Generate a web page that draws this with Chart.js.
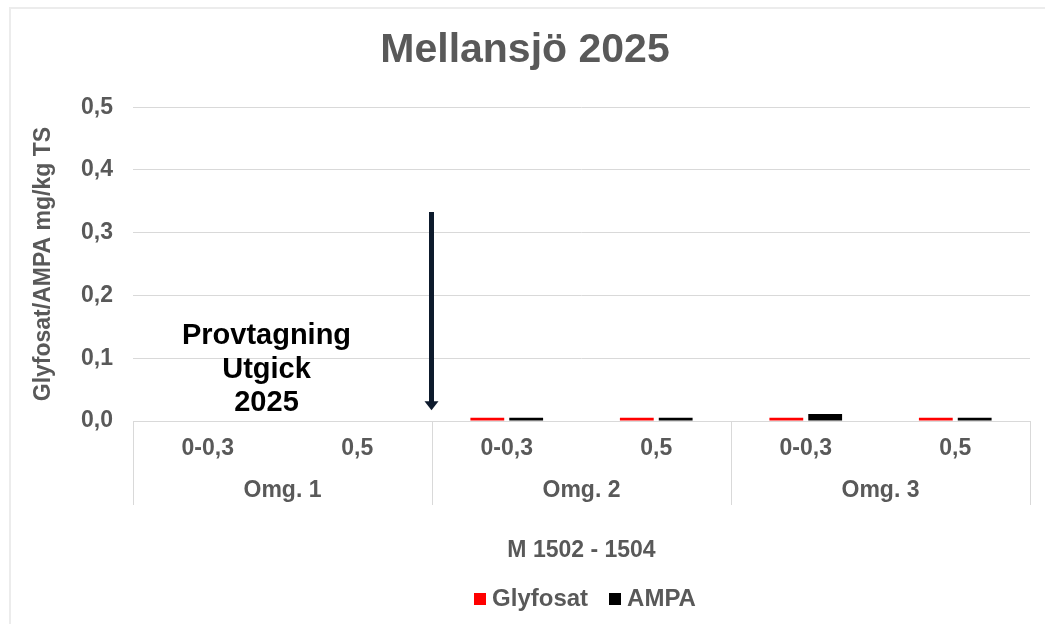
<!DOCTYPE html>
<html>
<head>
<meta charset="utf-8">
<script src="https://cdn.jsdelivr.net/npm/chart.js@4.4.1/dist/chart.umd.min.js"></script>
<style>
  html, body { margin: 0; padding: 0; background: #ffffff; }
  #wrap { width: 1045px; height: 624px; position: relative; }
</style>
</head>
<body>
<div id="wrap"><canvas id="c" width="1045" height="624"></canvas></div>
<script>
// ---- Data ----
const categories = ['0-0,3', '0,5', '0-0,3', '0,5', '0-0,3', '0,5'];
const groups = ['Omg. 1', 'Omg. 2', 'Omg. 3'];
const glyfosat = [null, null, 0.005, 0.005, 0.005, 0.005];
const ampa = [null, null, 0.005, 0.005, 0.011, 0.005];
const yTicks = [0, 0.1, 0.2, 0.3, 0.4, 0.5];
const chartTitle = 'Mellansjö 2025';
const yTitle = 'Glyfosat/AMPA mg/kg TS';
const xTitle = 'M 1502 - 1504';
const noteLines = ['Provtagning', 'Utgick', '2025'];

const GRAY = '#595959';
const GRID = '#d9d9d9';
const FONT = "'Liberation Sans', Arial, sans-serif";

function squareIcon(color) {
  const c = document.createElement('canvas');
  c.width = 12; c.height = 12;
  const g = c.getContext('2d');
  g.fillStyle = color;
  g.fillRect(0, 0, 12, 12);
  return c;
}
const icons = { Glyfosat: squareIcon('#ff0000'), AMPA: squareIcon('#000000') };

const decorations = {
  id: 'decorations',
  afterLayout(chart) {
    const lg = chart.legend, area = chart.chartArea;
    if (lg && area) {
      const shift = (area.left + area.right) / 2 - (lg.left + lg.right) / 2 + 6;
      lg.left += shift;
      lg.right += shift;
      lg.top -= 9;
      lg.bottom -= 9;
    }
  },
  beforeDraw(chart) {
    const ctx = chart.ctx;
    ctx.save();
    ctx.fillStyle = '#ffffff';
    ctx.fillRect(0, 0, chart.width, chart.height);
    ctx.strokeStyle = '#ececec';
    ctx.lineWidth = 2;
    ctx.beginPath();
    ctx.moveTo(10, chart.height + 5);
    ctx.lineTo(10, 8);
    ctx.lineTo(chart.width + 5, 8);
    ctx.stroke();
    ctx.restore();
  },
  afterDraw(chart) {
    const ctx = chart.ctx;
    const x = chart.scales.x, x2 = chart.scales.x2, y = chart.scales.y;
    const area = chart.chartArea;
    ctx.save();
    const bounds = [area.left];
    for (let i = 1; i < groups.length; i++) {
      bounds.push((x.getPixelForValue(i * 2 - 1) + x.getPixelForValue(i * 2)) / 2);
    }
    bounds.push(area.right);
    ctx.strokeStyle = GRID;
    ctx.lineWidth = 1;
    const sepBottom = x2.top + 34;
    bounds.forEach(bx => {
      const px = Math.round(bx) + 0.5;
      ctx.beginPath();
      ctx.moveTo(px, area.bottom);
      ctx.lineTo(px, sepBottom);
      ctx.stroke();
    });
    ctx.fillStyle = '#000000';
    ctx.font = 'bold 29px ' + FONT;
    ctx.textAlign = 'center';
    ctx.textBaseline = 'middle';
    const tx = x2.getPixelForValue(0) - 16;
    const lineVals = [0.136, 0.082, 0.028];
    noteLines.forEach((t, i) => ctx.fillText(t, tx, y.getPixelForValue(lineVals[i])));
    const ax = Math.round(bounds[1]) - 0.5;
    const yTop = y.getPixelForValue(0.333);
    const yTip = y.getPixelForValue(0.017);
    ctx.strokeStyle = '#0d1a2c';
    ctx.fillStyle = '#0d1a2c';
    ctx.lineWidth = 5;
    ctx.beginPath();
    ctx.moveTo(ax, yTop);
    ctx.lineTo(ax, yTip - 7);
    ctx.stroke();
    ctx.beginPath();
    ctx.moveTo(ax - 7, yTip - 9);
    ctx.lineTo(ax + 7, yTip - 9);
    ctx.lineTo(ax, yTip);
    ctx.closePath();
    ctx.fill();
    ctx.restore();
  }
};

new Chart(document.getElementById('c'), {
  type: 'bar',
  data: {
    labels: categories,
    datasets: [
      { label: 'Glyfosat', data: glyfosat, backgroundColor: '#ff0000', borderWidth: 0 },
      { label: 'AMPA', data: ampa, backgroundColor: '#000000', borderWidth: 0 }
    ]
  },
  options: {
    responsive: false,
    animation: false,
    devicePixelRatio: 1,
    barPercentage: 0.87,
    categoryPercentage: 0.52,
    layout: { padding: { left: 20, right: 15, top: 0, bottom: 0 } },
    plugins: {
      title: {
        display: true,
        text: chartTitle,
        color: GRAY,
        font: { family: FONT, size: 41, weight: 'bold' },
        padding: { top: 26, bottom: 32 }
      },
      legend: {
        display: true,
        position: 'bottom',
        maxHeight: 54,
        labels: {
          color: GRAY,
          font: { family: FONT, size: 24, weight: 'bold' },
          usePointStyle: true,
          pointStyleWidth: 1,
          boxHeight: 12,
          padding: 26,
          generateLabels(chart) {
            return chart.data.datasets.map((ds, i) => ({
              text: ds.label,
              fillStyle: ds.backgroundColor,
              strokeStyle: ds.backgroundColor,
              lineWidth: 0,
              pointStyle: icons[ds.label],
              hidden: false,
              datasetIndex: i,
              fontColor: GRAY
            }));
          }
        }
      },
      tooltip: { enabled: false }
    },
    scales: {
      y: {
        min: 0,
        max: 0.5,
        afterBuildTicks(scale) { scale.ticks = yTicks.map(v => ({ value: v })); },
        afterFit(scale) { scale.width = 113; },
        ticks: {
          color: GRAY,
          font: { family: FONT, size: 23, weight: 'bold' },
          padding: 20,
          callback: v => Number(v).toFixed(1).replace('.', ',')
        },
        grid: { color: GRID, drawTicks: false },
        border: { display: false },
        title: {
          display: true,
          text: yTitle,
          color: GRAY,
          font: { family: FONT, size: 23, weight: 'bold' },
          padding: { top: 10, bottom: 0 }
        }
      },
      x: {
        type: 'category',
        position: 'bottom',
        weight: 0,
        offset: true,
        grid: { display: false, drawTicks: false },
        border: { display: true, color: GRID },
        ticks: {
          color: GRAY,
          font: { family: FONT, size: 23, weight: 'bold' },
          padding: 14,
          maxRotation: 0,
          autoSkip: false
        },
        afterFit(scale) { scale.height = 50; }
      },
      x2: {
        type: 'category',
        labels: groups,
        position: 'bottom',
        weight: 1,
        offset: true,
        grid: { display: false, drawTicks: false },
        border: { display: false },
        ticks: {
          color: GRAY,
          font: { family: FONT, size: 23, weight: 'bold' },
          padding: 6,
          maxRotation: 0,
          autoSkip: false
        },
        title: {
          display: true,
          text: xTitle,
          color: GRAY,
          font: { family: FONT, size: 23, weight: 'bold' },
          padding: { top: 3, bottom: 6 }
        },
        afterFit(scale) { scale.height = 99; }
      }
    }
  },
  plugins: [decorations]
});
</script>
</body>
</html>
